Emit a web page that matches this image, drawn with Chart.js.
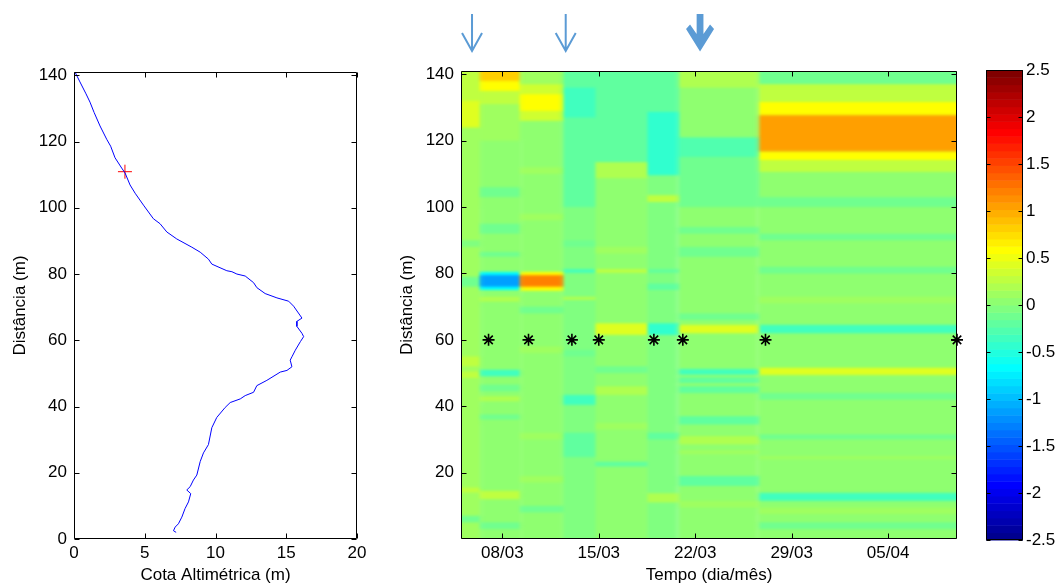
<!DOCTYPE html>
<html>
<head>
<meta charset="utf-8">
<title>Perfil e variação da cota</title>
<script src="https://cdn.jsdelivr.net/npm/chart.js@4.4.1/dist/chart.umd.min.js"></script>
<style>
  html, body { margin: 0; padding: 0; background: #fff; }
  body { width: 1059px; height: 588px; position: relative; overflow: hidden; }
  .box { position: absolute; top: 0; height: 588px; }
  #boxPerfil { left: 0; width: 380px; }
  #boxMapa { left: 385px; width: 590px; }
  #boxBarra { left: 975px; width: 84px; }
</style>
</head>
<body>
<div class="box" id="boxPerfil"><canvas id="perfil"></canvas></div>
<div class="box" id="boxMapa"><canvas id="mapa"></canvas></div>
<div class="box" id="boxBarra"><canvas id="barra"></canvas></div>
<script>
// ---- perfil de praia (cota x distância)
const distancia = [141, 138.0, 134.4, 131.9, 128.8, 124.7, 120.7, 118.6, 115.1, 112.0, 110.5, 106.9,
  104.4, 100.8, 96.7, 95.2, 92.7, 90.6, 88.1, 86.6, 84.5, 83.0, 81.0, 80.7, 80.0, 79.4, 77.4, 75.9,
  74.1, 72.8, 71.8, 70.3, 66.7, 65.7, 64.2, 62.1, 61.1, 59.6, 57.0, 55.0, 54.0, 52.0, 50.9, 50.4,
  47.9, 46.3, 44.3, 43.3, 42.3, 41.2, 39.7, 36.7, 33.6, 28.5, 26.0, 23.4, 19.3, 17.8, 15.8, 14.8,
  13.7, 11.2, 9.2, 6.6, 4.6, 3.6, 2.5, 2.0];
const cota = [0.07, 0.42, 0.85, 1.13, 1.42, 1.84, 2.31, 2.59, 2.90, 3.37, 3.61, 3.96,
  4.32, 4.91, 5.61, 6.08, 6.56, 7.26, 8.33, 8.92, 9.50, 9.74, 10.80, 11.16, 11.51, 12.10, 12.69, 12.92,
  13.51, 14.34, 15.17, 15.52, 16.11, 15.75, 15.75, 16.11, 16.23, 16.0, 15.64, 15.40, 15.28, 15.40, 15.05, 14.58,
  13.63, 12.92, 12.69, 12.10, 11.75, 11.04, 10.68, 10.09, 9.74, 9.50, 9.15, 8.92, 8.68, 8.44, 8.21, 7.97,
  8.25, 8.09, 7.85, 7.62, 7.38, 7.15, 7.03, 7.22];
const marcaCota = [3.6];
const marcaDist = [110.9];

const cotaTicks = [0, 5, 10, 15, 20];
const distTicksPerfil = [0, 20, 40, 60, 80, 100, 120, 140];
const distTicksMapa = [20, 40, 60, 80, 100, 120, 140];

// ---- tempo: dias contados a partir de 01/03
const diasTicks = [7, 14, 21, 28, 35];
const rotulosDatas = ['08/03', '15/03', '22/03', '29/03', '05/04'];
const diasLevant = [6, 8.9, 12.05, 14, 18, 20.1, 26.1, 40];
const distLevant = [60, 60, 60, 60, 60, 60, 60, 60];
const diasSetas = [4.8, 11.6, 21.35];
const setaGrossa = [false, false, true];

// ---- mapa de variação: colunas no tempo
const colInicio = [4, 5.5, 8.4, 11.4, 13.8, 17.6, 19.8, 25.6];
const colFim = [5.5, 8.4, 11.4, 13.8, 17.6, 19.8, 25.6, 40];
const colBase = [0.1, 0.05, 0.05, -0.05, 0.05, -0.05, 0.0, 0.0];
// [coluna, dist. inicial, dist. final, variação]
const faixas = [
  [0, 100, 124, 0.15], [0, 124, 141, 0.3], [0, 124, 132, 0.4], [0, 88, 90, -0.05], [0, 76, 79, -0.1],
  [0, 70, 72, 0.15], [0, 52, 55, 0.3], [0, 48.5, 50.5, 0.25], [0, 38, 40, 0.15], [0, 34.5, 36, 0.12],
  [0, 14, 15.5, 0.25], [0, 5, 7, -0.15],
  [1, 120, 131, 0.15], [1, 131, 135, 0.3], [1, 135, 138, 0.58], [1, 138, 141, 0.8], [1, 103, 106, -0.1],
  [1, 92, 95, -0.1], [1, 85, 86.5, -0.1], [1, 75, 80.5, -0.7], [1, 76, 79.5, -1.1], [1, 71.5, 73, 0.2],
  [1, 49, 51, -0.35], [1, 44.5, 46.5, -0.1], [1, 41.5, 43, 0.2], [1, 36, 37.5, -0.1], [1, 12, 14.5, 0.25],
  [1, 3, 5, -0.1],
  [2, 137, 141, 0.15], [2, 126, 137, 0.35], [2, 129, 134, 0.58], [2, 110, 112, 0.12], [2, 96, 98, 0.12],
  [2, 74.8, 80.5, 0.6], [2, 76, 79.5, 1.2], [2, 68, 70, -0.1], [2, 56, 58, 0.12], [2, 30, 32, 0.12],
  [2, 17, 19, 0.15], [2, 8, 10, -0.1],
  [3, 100, 141, -0.2], [3, 127, 136, -0.35], [3, 88, 90, -0.1], [3, 80.2, 81.3, -0.35], [3, 72, 73, 0.2],
  [3, 55, 57, -0.1], [3, 40.4, 43.4, -0.35], [3, 24.7, 32, -0.2],
  [4, 113.5, 141, -0.2], [4, 108.7, 113.5, 0.2], [4, 86, 88, 0.12], [4, 80.2, 81.3, 0.3], [4, 61.5, 65, 0.4],
  [4, 50, 52, -0.1], [4, 43.4, 46, 0.2], [4, 33, 35, 0.12], [4, 21.8, 23.3, -0.2],
  [5, 128.7, 141, -0.2], [5, 109.6, 128.7, -0.45], [5, 101.5, 103.6, 0.25], [5, 80.2, 81.3, -0.2],
  [5, 75, 77, -0.2], [5, 61.5, 65, -0.4], [5, 30, 32, -0.2], [5, 11, 13.8, 0.2],
  [6, 136, 141, 0.2], [6, 115, 121, -0.3], [6, 100, 115, -0.1], [6, 92, 94, -0.1], [6, 85, 88, -0.15],
  [6, 66, 68, -0.1], [6, 62, 64.5, 0.4], [6, 49.5, 51.2, -0.35], [6, 47, 48.7, -0.2], [6, 44, 46, -0.2],
  [6, 34.5, 37, -0.2], [6, 28.5, 31, 0.2], [6, 25.5, 26.8, 0.15], [6, 16, 19, -0.2], [6, 9.5, 11.5, 0.15],
  [7, 137, 141, -0.15], [7, 131.7, 137, 0.3], [7, 127.7, 131.7, 0.58], [7, 116.7, 127.7, 1.05],
  [7, 114.2, 116.7, 0.58], [7, 110.6, 114.2, 0.3], [7, 100, 103, -0.1], [7, 90, 92, -0.1], [7, 80, 82, -0.1],
  [7, 71, 73, 0.12], [7, 62, 64.5, -0.35], [7, 49.4, 51.6, 0.45], [7, 42, 44, -0.1], [7, 30, 31.5, -0.1],
  [7, 24, 25, 0.12], [7, 11.5, 13.9, -0.35], [7, 7.5, 9.5, 0.15], [7, 3, 5, -0.1]
];

// ---- barra de cores
const barraMin = -2.5;
const barraMax = 2.5;
const barraTicks = [-2.5, -2, -1.5, -1, -0.5, 0, 0.5, 1, 1.5, 2, 2.5];

Chart.defaults.font.family = '"Liberation Sans", Arial, Helvetica, sans-serif';
Chart.defaults.font.size = 17;
Chart.defaults.color = '#000';

// jet(64) do matlab
function jet(v) {
  let k = Math.floor((v - barraMin) / (barraMax - barraMin) * 64) + 1;
  k = Math.max(1, Math.min(64, k));
  const r = k <= 24 ? 0 : k <= 40 ? (k - 24) / 16 : k <= 56 ? 1 : 1 - (k - 56) / 16;
  const g = k <= 8 ? 0 : k <= 24 ? (k - 8) / 16 : k <= 40 ? 1 : k <= 56 ? 1 - (k - 40) / 16 : 0;
  const b = k <= 8 ? (k + 8) / 16 : k <= 24 ? 1 : k <= 40 ? 1 - (k - 24) / 16 : 0;
  return 'rgb(' + Math.round(r * 255) + ',' + Math.round(g * 255) + ',' + Math.round(b * 255) + ')';
}

// caixa com ticks para dentro, estilo matlab
const caixa = {
  id: 'caixa',
  afterDatasetsDraw(chart, args, opts) {
    const { ctx, chartArea: a, scales } = chart;
    const len = opts.len || 5;
    const L = Math.round(a.left) + 0.5, R = Math.round(a.right) - 0.5;
    const T = Math.round(a.top) + 0.5, B = Math.round(a.bottom) - 0.5;
    ctx.save();
    ctx.strokeStyle = '#000';
    ctx.lineWidth = 1;
    ctx.beginPath();
    if (scales.x.options.display !== false) {
      scales.x.ticks.forEach(t => {
        const px = Math.round(scales.x.getPixelForValue(t.value)) + 0.5;
        ctx.moveTo(px, B); ctx.lineTo(px, B - len);
        ctx.moveTo(px, T); ctx.lineTo(px, T + len);
      });
    }
    scales.y.ticks.forEach(t => {
      const py = Math.round(scales.y.getPixelForValue(t.value)) + 0.5;
      ctx.moveTo(L, py); ctx.lineTo(L + len, py);
      ctx.moveTo(R, py); ctx.lineTo(R - len, py);
    });
    ctx.rect(L, T, R - L, B - T);
    ctx.stroke();
    ctx.restore();
  }
};

const eixoFixo = (size, vertical) => s => { if (vertical) s.width = size; else s.height = size; };

// ---------------- perfil
new Chart(document.getElementById('perfil'), {
  type: 'scatter',
  data: {
    datasets: [
      {
        data: cota.map((c, i) => ({ x: c, y: distancia[i] })),
        showLine: true,
        borderColor: '#0000ff',
        borderWidth: 1,
        pointRadius: 0,
        tension: 0
      },
      {
        data: marcaCota.map((c, i) => ({ x: c, y: marcaDist[i] })),
        pointStyle: 'cross',
        pointRadius: 7,
        borderColor: '#ff0000',
        borderWidth: 1
      }
    ]
  },
  options: {
    responsive: true,
    maintainAspectRatio: false,
    animation: false,
    events: [],
    layout: { padding: { left: 0, right: 23, top: 72, bottom: 0 } },
    plugins: { legend: { display: false }, tooltip: { enabled: false } },
    scales: {
      x: {
        type: 'linear', min: 0, max: 20,
        afterBuildTicks: s => { s.ticks = cotaTicks.map(v => ({ value: v })); },
        afterFit: eixoFixo(49, false),
        grid: { display: false, drawTicks: false },
        border: { display: false },
        ticks: { padding: 4, maxRotation: 0, autoSkip: false, callback: v => String(v) },
        title: { display: true, text: 'Cota Altimétrica (m)', padding: { top: 0, bottom: 2 } }
      },
      y: {
        type: 'linear', min: 0, max: 141,
        afterBuildTicks: s => { s.ticks = distTicksPerfil.map(v => ({ value: v })); },
        afterFit: eixoFixo(74, true),
        grid: { display: false, drawTicks: false },
        border: { display: false },
        ticks: { padding: 7, autoSkip: false, callback: v => String(v) },
        title: { display: true, text: 'Distância (m)', padding: { top: 10, bottom: 0 } }
      }
    }
  },
  plugins: [caixa]
});

// ---------------- mapa de variação
// pinta as células numa tela auxiliar e suaviza (mais no tempo que na distância),
// parecido com o shading interp do matlab
const mapaCores = {
  id: 'mapaCores',
  beforeDatasetsDraw(chart) {
    const { ctx, chartArea: a, scales: { x, y } } = chart;
    const W = chart.width, H = chart.height;
    const off = document.createElement('canvas');
    off.width = W;
    off.height = H;
    const o = off.getContext('2d');
    const m = 14;
    const ultima = colInicio.length - 1;
    const xs = c => [x.getPixelForValue(colInicio[c]) - (c === 0 ? m : 0),
                     x.getPixelForValue(colFim[c]) + (c === ultima ? m : 0)];
    colInicio.forEach((d0, c) => {
      const [x0, x1] = xs(c);
      o.fillStyle = jet(colBase[c]);
      o.fillRect(x0, a.top - m, x1 - x0, a.height + 2 * m);
    });
    faixas.forEach(([c, d0, d1, v]) => {
      const [x0, x1] = xs(c);
      const p0 = d1 >= y.max ? a.top - m : y.getPixelForValue(d1);
      const p1 = d0 <= y.min ? a.bottom + m : y.getPixelForValue(d0);
      o.fillStyle = jet(v);
      o.fillRect(x0, p0, x1 - x0, p1 - p0);
    });
    // suavização horizontal: reduz a largura e amplia de volta
    const f = 4;
    const estreita = document.createElement('canvas');
    estreita.width = Math.ceil(W / f);
    estreita.height = H;
    const e = estreita.getContext('2d');
    e.imageSmoothingEnabled = true;
    e.imageSmoothingQuality = 'high';
    e.drawImage(off, 0, 0, W, H, 0, 0, estreita.width, H);

    ctx.save();
    ctx.beginPath();
    ctx.rect(a.left, a.top, a.width, a.height);
    ctx.clip();
    ctx.imageSmoothingEnabled = true;
    ctx.filter = 'blur(1px)';
    ctx.drawImage(estreita, 0, 0, estreita.width, H, -(f - 1) / 2, 0, estreita.width * f, H);
    ctx.restore();
  }
};

const setas = {
  id: 'setas',
  afterDraw(chart) {
    const { ctx, scales: { x } } = chart;
    ctx.save();
    ctx.strokeStyle = '#5b9bd5';
    ctx.fillStyle = '#5b9bd5';
    diasSetas.forEach((d, i) => {
      const px = x.getPixelForValue(d);
      if (setaGrossa[i]) {
        ctx.beginPath();
        ctx.moveTo(px - 3.4, 14);
        ctx.lineTo(px + 3.4, 14);
        ctx.lineTo(px + 3.4, 34);
        ctx.lineTo(px + 10, 24.5);
        ctx.lineTo(px + 14, 29);
        ctx.lineTo(px, 51.5);
        ctx.lineTo(px - 14, 29);
        ctx.lineTo(px - 10, 24.5);
        ctx.lineTo(px - 3.4, 34);
        ctx.closePath();
        ctx.fill();
      } else {
        ctx.lineWidth = 2;
        ctx.beginPath();
        ctx.moveTo(px, 14);
        ctx.lineTo(px, 50);
        ctx.moveTo(px - 10, 33);
        ctx.lineTo(px, 51);
        ctx.lineTo(px + 10, 33);
        ctx.stroke();
      }
    });
    ctx.restore();
  }
};

new Chart(document.getElementById('mapa'), {
  type: 'scatter',
  data: {
    datasets: [{
      data: diasLevant.map((d, i) => ({ x: d, y: distLevant[i] })),
      pointStyle: 'star',
      pointRadius: 6,
      borderColor: '#000',
      borderWidth: 1.6,
      clip: false
    }]
  },
  options: {
    responsive: true,
    maintainAspectRatio: false,
    animation: false,
    events: [],
    layout: { padding: { left: 0, right: 18, top: 71, bottom: 0 } },
    plugins: { legend: { display: false }, tooltip: { enabled: false } },
    scales: {
      x: {
        type: 'linear', min: 4, max: 40,
        afterBuildTicks: s => { s.ticks = diasTicks.map(v => ({ value: v })); },
        afterFit: eixoFixo(49, false),
        grid: { display: false, drawTicks: false },
        border: { display: false },
        ticks: { padding: 4, maxRotation: 0, autoSkip: false, callback: (v, i) => rotulosDatas[i] },
        title: { display: true, text: 'Tempo (dia/mês)', padding: { top: 0, bottom: 2 } }
      },
      y: {
        type: 'linear', min: 0, max: 141,
        afterBuildTicks: s => { s.ticks = distTicksMapa.map(v => ({ value: v })); },
        afterFit: eixoFixo(76, true),
        grid: { display: false, drawTicks: false },
        border: { display: false },
        ticks: { padding: 7, autoSkip: false, callback: v => String(v) },
        title: { display: true, text: 'Distância (m)', padding: { top: 12, bottom: 0 } }
      }
    }
  },
  plugins: [mapaCores, caixa, setas]
});

// ---------------- barra de cores
const barraCores = {
  id: 'barraCores',
  beforeDatasetsDraw(chart) {
    const { ctx, chartArea: a, scales: { y } } = chart;
    const passo = (barraMax - barraMin) / 64;
    ctx.save();
    for (let k = 0; k < 64; k++) {
      const v0 = barraMin + k * passo;
      const p0 = y.getPixelForValue(v0 + passo), p1 = y.getPixelForValue(v0);
      ctx.fillStyle = jet(v0 + passo / 2);
      ctx.fillRect(a.left, p0, a.width, p1 - p0 + 0.5);
    }
    ctx.restore();
  }
};

new Chart(document.getElementById('barra'), {
  type: 'scatter',
  data: { datasets: [] },
  options: {
    responsive: true,
    maintainAspectRatio: false,
    animation: false,
    events: [],
    layout: { padding: { left: 11, right: 0, top: 70, bottom: 48 } },
    plugins: { legend: { display: false }, tooltip: { enabled: false }, caixa: { len: 4 } },
    scales: {
      x: { type: 'linear', display: false, min: 0, max: 1 },
      y: {
        type: 'linear', position: 'right', min: barraMin, max: barraMax,
        afterBuildTicks: s => { s.ticks = barraTicks.map(v => ({ value: v })); },
        afterFit: eixoFixo(36, true),
        grid: { display: false, drawTicks: false },
        border: { display: false },
        ticks: { padding: 3, autoSkip: false, callback: v => String(v) }
      }
    }
  },
  plugins: [barraCores, caixa]
});
</script>
</body>
</html>
